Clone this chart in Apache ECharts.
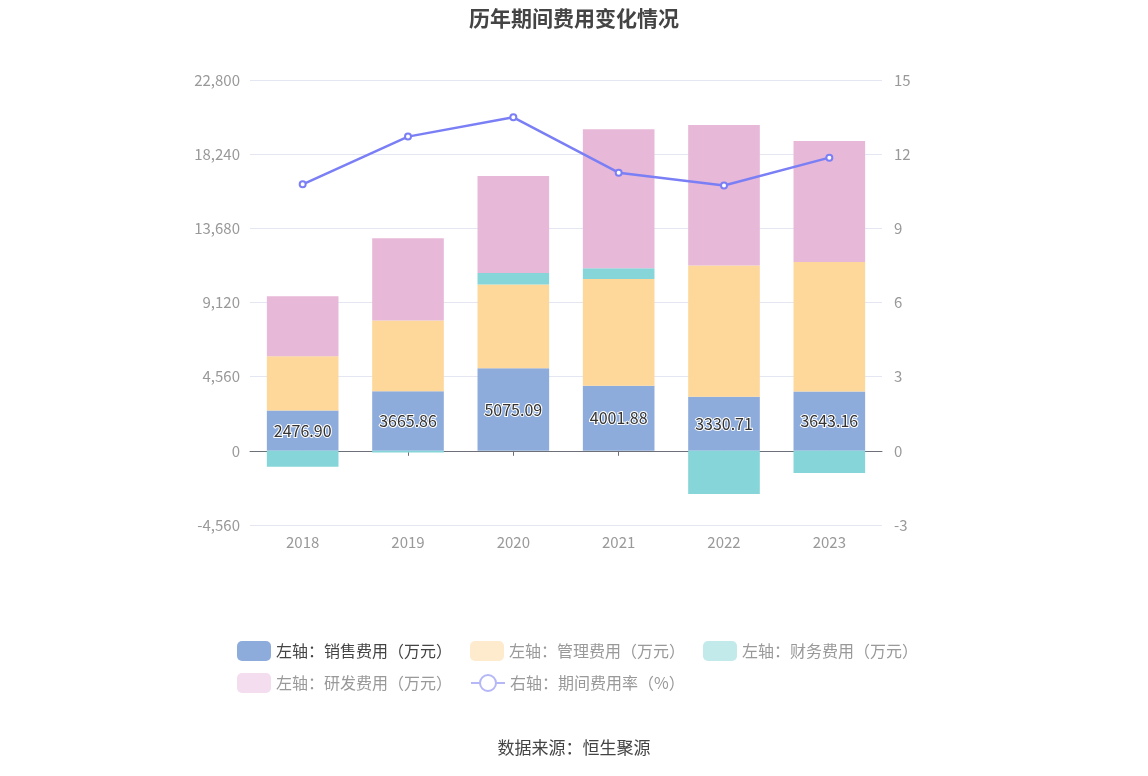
<!DOCTYPE html>
<html><head><meta charset="utf-8">
<script src="https://cdn.jsdelivr.net/npm/echarts@6/dist/echarts.min.js"></script>
<style>html,body{margin:0;padding:0;background:#fff}#c{width:1148px;height:776px}</style>
</head><body><div id="c"></div>
<script>
const years = ['2018','2019','2020','2021','2022','2023'];
const sales = [2476.90, 3665.86, 5075.09, 4001.88, 3330.71, 3643.16];
const admin = [3343, 4342, 5145, 6568, 8057, 7972];
const finance = [-983, -104, 719, 658, -2661, -1370];
const rnd = [3687, 5064, 5961, 8542, 8646, 7436];
const rate = [10.78, 12.71, 13.49, 11.25, 10.73, 11.86];
const leftTicks = {min: -4560, max: 22800, interval: 4560};
const rightTicks = {min: -3, max: 15, interval: 3};

const chart = echarts.init(document.getElementById('c'));
const font = '"Microsoft YaHei","Noto Sans CJK SC",sans-serif';
const gray = '#999';
const legendBase = {itemWidth: 34, itemHeight: 20, itemGap: 18,
  textStyle: {fontSize: 16, color: '#999', fontFamily: font}};
chart.setOption({
  animation: false,
  textStyle: {fontFamily: font},
  title: {text: '历年期间费用变化情况', left: 'center', top: 3,
    textStyle: {fontSize: 21, fontWeight: 'bold', color: '#444', fontFamily: font}},
  grid: {left: 250, right: 266, top: 80, bottom: 251},
  legend: [
    Object.assign({left: 232, top: 636, data: [
      {name: '左轴：销售费用（万元）', itemStyle: {color: '#8eacdb'}, textStyle: {color: '#444'}},
      {name: '左轴：管理费用（万元）', itemStyle: {color: '#feebcd'}},
      {name: '左轴：财务费用（万元）', itemStyle: {color: '#c2eaeb'}}
    ]}, legendBase),
    Object.assign({left: 232, top: 668, data: [
      {name: '左轴：研发费用（万元）', itemStyle: {color: '#f3ddee'}},
      {name: '右轴：期间费用率（%）', itemStyle: {color: '#b5b7f7', borderWidth: 2},
        lineStyle: {color: '#b5b7f7', width: 2, type: 'solid'}}
    ]}, legendBase)
  ],
  xAxis: {
    type: 'category', data: years,
    axisLine: {onZero: true, lineStyle: {color: '#6e7079'}},
    axisTick: {show: true, alignWithLabel: true, length: 5, lineStyle: {color: '#6e7079'}},
    axisLabel: {color: gray, fontSize: 15, margin: 10}
  },
  yAxis: [
    {type: 'value', min: leftTicks.min, max: leftTicks.max, interval: leftTicks.interval,
      axisLabel: {color: gray, fontSize: 15, margin: 10, formatter: v => v.toLocaleString('en-US')},
      axisLine: {show: false}, axisTick: {show: false},
      splitLine: {lineStyle: {color: '#e4e6f2'}}},
    {type: 'value', min: rightTicks.min, max: rightTicks.max, interval: rightTicks.interval,
      axisLabel: {color: gray, fontSize: 15, margin: 12},
      axisLine: {show: false}, axisTick: {show: false},
      splitLine: {lineStyle: {color: '#e4e6f2'}}}
  ],
  series: [
    {name: '左轴：销售费用（万元）', type: 'bar', stack: 's', data: sales, barWidth: '68%',
      itemStyle: {color: '#8eacdb'},
      label: {show: true, position: 'inside', color: '#333', fontSize: 16, textBorderColor: '#fff', textBorderWidth: 2,
        formatter: p => p.value.toFixed(2)}},
    {name: '左轴：管理费用（万元）', type: 'bar', stack: 's', data: admin, itemStyle: {color: '#fdd89a'}},
    {name: '左轴：财务费用（万元）', type: 'bar', stack: 's', data: finance, itemStyle: {color: '#86d5d8'}},
    {name: '左轴：研发费用（万元）', type: 'bar', stack: 's', data: rnd, itemStyle: {color: '#e7b8d8'}},
    {name: '右轴：期间费用率（%）', type: 'line', yAxisIndex: 1, data: rate,
      symbol: 'emptyCircle', symbolSize: 6, lineStyle: {color: '#7b7ff5', width: 2.5},
      itemStyle: {color: '#7b7ff5', borderWidth: 2}}
  ],
  graphic: [{type: 'text', left: 'center', top: 739,
    style: {text: '数据来源：恒生聚源', fontSize: 17, fill: '#444', fontFamily: font}}]
});
</script></body></html>
